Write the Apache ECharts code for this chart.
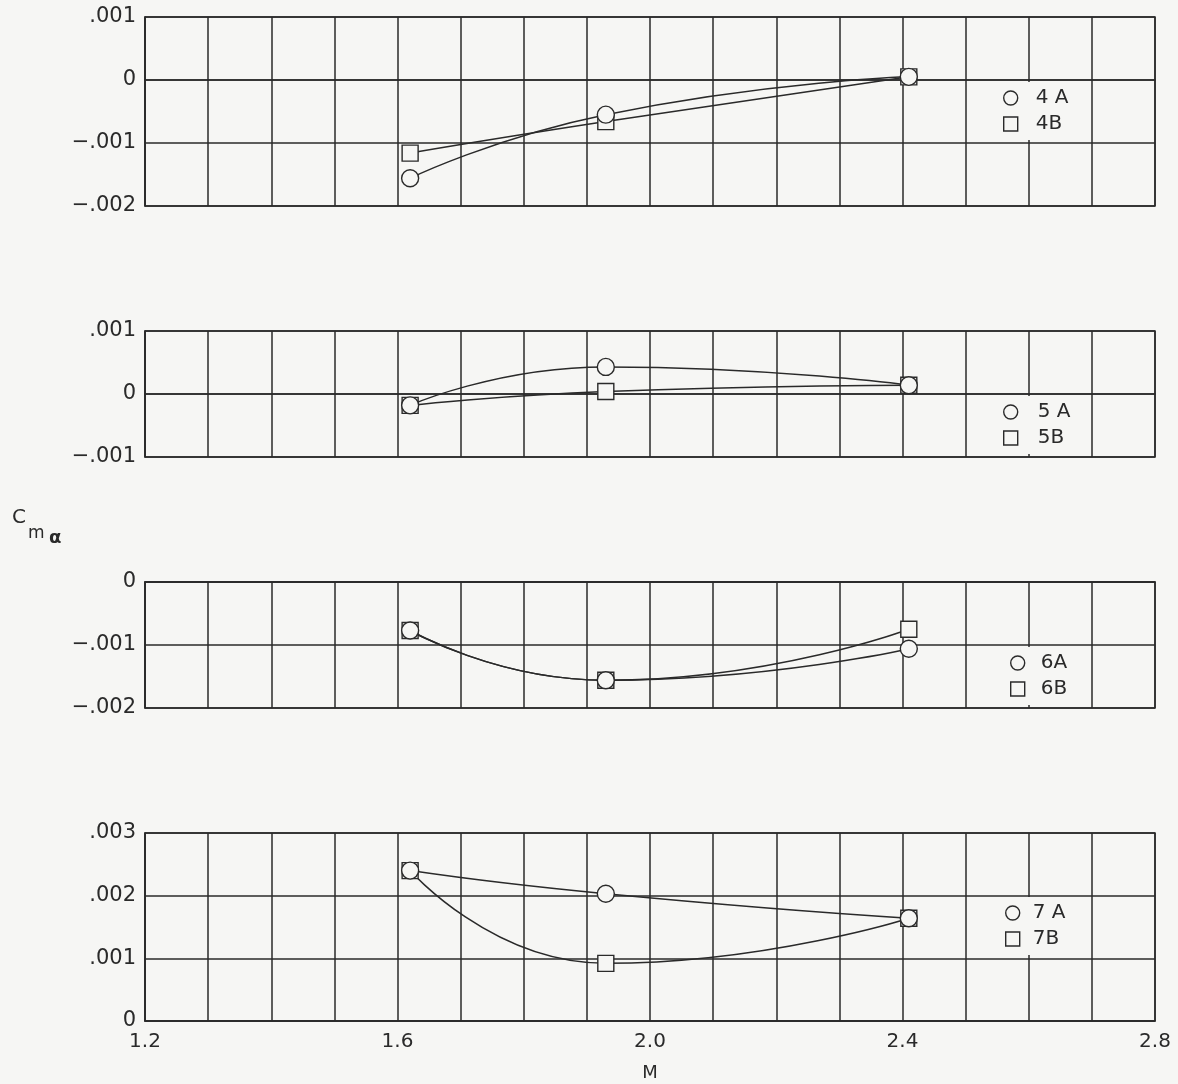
<!DOCTYPE html>
<html>
<head>
<meta charset="utf-8">
<script src="https://cdn.jsdelivr.net/npm/echarts@6/dist/echarts.min.js"></script>
<style>
  html, body { margin: 0; padding: 0; background: #f6f6f4; }
  #chart { width: 1178px; height: 1084px; }
</style>
</head>
<body>
<div id="chart"></div>
<script>
// ---- data ----
const machNumbers = [1.62, 1.93, 2.41];
const cm4A = [-0.00156, -0.00055, 0.00005];
const cm4B = [-0.00116, -0.00066, 0.00005];
const cm5A = [-0.00018, 0.00043, 0.00014];
const cm5B = [-0.00018, 0.00004, 0.00014];
const cm6A = [-0.00077, -0.00156, -0.00106];
const cm6B = [-0.00077, -0.00156, -0.00075];
const cm7A = [0.0024, 0.00203, 0.00164];
const cm7B = [0.0024, 0.00092, 0.00164];

const seriesNames = [['4 A', '4B'], ['5 A', '5B'], ['6A', '6B'], ['7 A', '7B']];
const xTickValues = [1.2, 1.6, 2.0, 2.4, 2.8];
const xTickLabels = ['1.2', '1.6', '2.0', '2.4', '2.8'];
const yRanges = [[-0.002, 0.001], [-0.001, 0.001], [-0.002, 0], [0, 0.003]];
const xAxisName = 'M';

// ---- layout ----
const BG = '#f6f6f4';
const INK = '#2a2a2a';
const gridTops = [17, 331, 582, 833];
const gridHeights = [189, 126, 126, 188];
const legendTops = [82, 396, 647, 897];
const legendLefts = [997, 997, 1004, 999];
const legendTextPads = [13, 15, 11, 8];

function yFmt(v) {
  if (Math.abs(v) < 1e-9) return '0';
  const s = Math.abs(v).toFixed(3).replace(/^0/, '');
  return (v < 0 ? '\u2212' : '') + s;
}
function xFmt(v) {
  const i = xTickValues.findIndex(t => Math.abs(t - v) < 1e-6);
  return i >= 0 ? xTickLabels[i] : '';
}

const grids = [], xAxes = [], yAxes = [], series = [], legends = [];
const pairs = [[cm4A, cm4B], [cm5A, cm5B], [cm6A, cm6B], [cm7A, cm7B]];

for (let p = 0; p < 4; p++) {
  grids.push({
    left: 145, right: 23, top: gridTops[p], height: gridHeights[p],
    outerBoundsMode: 'none', containLabel: false,
    show: true, borderColor: INK, borderWidth: 1.5, backgroundColor: 'transparent'
  });
  const last = p === 3;
  xAxes.push({
    type: 'value', gridIndex: p, min: 1.2, max: 2.8, interval: 0.1,
    axisLine: { show: true, lineStyle: { color: INK, width: 1.5 } },
    axisTick: { show: false },
    splitLine: { show: true, lineStyle: { color: INK, width: 1.5 } },
    axisLabel: {
      show: last, formatter: xFmt, color: '#2a2a2a', fontSize: 20,
      fontFamily: 'DejaVu Sans', margin: 11
    },
    name: last ? xAxisName : '', nameLocation: 'middle', nameGap: 43,
    nameTextStyle: { fontSize: 18, color: '#2a2a2a', fontFamily: 'DejaVu Sans' }
  });
  yAxes.push({
    type: 'value', gridIndex: p, min: yRanges[p][0], max: yRanges[p][1], interval: 0.001,
    axisLine: { show: true, lineStyle: { color: INK, width: 1.5 } },
    axisTick: { show: false },
    splitLine: { show: true, lineStyle: { color: INK, width: 1.5 } },
    axisLabel: {
      formatter: yFmt, color: '#2a2a2a', fontSize: 21,
      fontFamily: 'DejaVu Sans', margin: 9
    }
  });
  const symbols = ['circle', 'rect'];
  for (let k = 0; k < 2; k++) {
    series.push({
      name: seriesNames[p][k], type: 'line', xAxisIndex: p, yAxisIndex: p,
      data: machNumbers.map((m, i) => [m, pairs[p][k][i]]),
      smooth: 0.55,
      symbol: symbols[k], symbolSize: k === 0 ? 17 : 16,
      lineStyle: { color: INK, width: 1.5 },
      itemStyle: { color: BG, borderColor: INK, borderWidth: 1.4 },
      z: k === 0 ? 3 : 2
    });
  }
  legends.push({
    orient: 'vertical', left: legendLefts[p], top: legendTops[p],
    backgroundColor: BG, padding: [6, 6, 6, 6], itemGap: 6,
    itemWidth: 14, itemHeight: 14,
    data: [
      { name: seriesNames[p][0], icon: 'circle' },
      { name: seriesNames[p][1], icon: 'rect' }
    ],
    itemStyle: { color: 'transparent', borderColor: INK, borderWidth: 1.4 },
    lineStyle: { width: 0, opacity: 0 },
    textStyle: { fontSize: 20, lineHeight: 20, color: '#2a2a2a', fontFamily: 'DejaVu Sans', padding: [0, 0, 0, legendTextPads[p]] },
    selectedMode: false
  });
}

const chart = echarts.init(document.getElementById('chart'), null, { renderer: 'canvas' });
chart.setOption({
  backgroundColor: BG,
  animation: false,
  grid: grids, xAxis: xAxes, yAxis: yAxes, series: series, legend: legends,
  graphic: [
    { type: 'text', x: 12, y: 508, style: { text: 'C', fontSize: 20, fill: '#2a2a2a', fontFamily: 'DejaVu Sans' } },
    { type: 'text', x: 28, y: 525, style: { text: 'm', fontSize: 17, fill: '#2a2a2a', fontFamily: 'DejaVu Sans' } },
    { type: 'text', x: 49, y: 529, style: { text: '\u03b1', fontSize: 18, fontWeight: 'bold', fill: '#2a2a2a', fontFamily: 'DejaVu Sans' } }
  ]
});
</script>
</body>
</html>
